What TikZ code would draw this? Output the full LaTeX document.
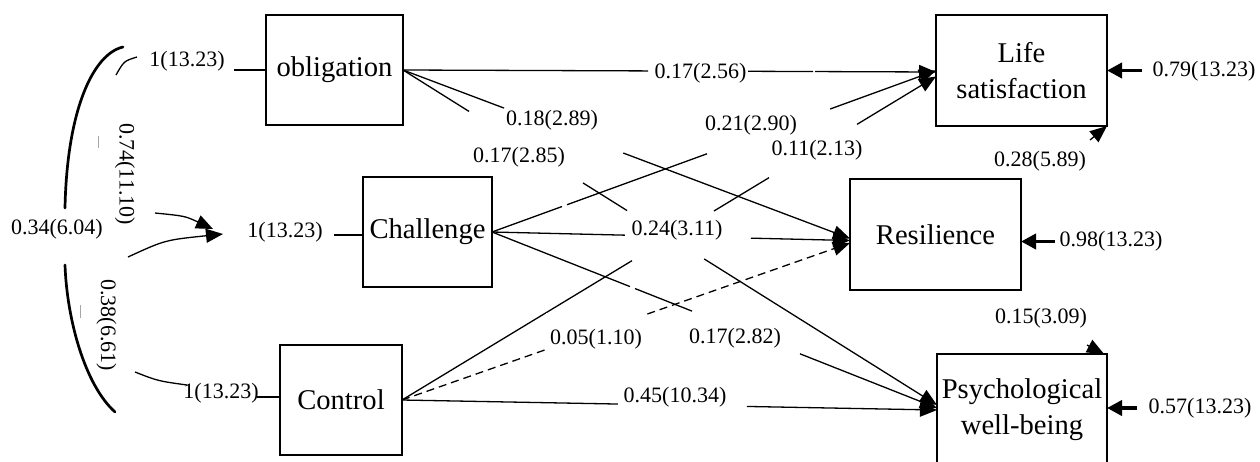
\documentclass[tikz,border=0pt]{standalone}
\usepackage{fontspec}
\setmainfont{Liberation Serif}
\usetikzlibrary{arrows.meta,calc}
\begin{document}
\begin{tikzpicture}[x=1pt,y=-1pt,
  box/.style={draw, line width=1.4pt, inner sep=0pt, outer sep=0pt, align=center,
    font=\fontsize{28.6}{36}\selectfont},
  lab/.style={font=\fontsize{22}{26}\selectfont, inner sep=1pt},
  pathway/.style={line width=1.3pt, -{Triangle[length=17pt,width=14pt]}},
  resid/.style={line width=3.8pt, -{Triangle[length=15pt,width=15pt]}},
  covbig/.style={line width=2.7pt, line cap=round},
  covthin/.style={line width=1.3pt},
  ghost/.style={line width=0.8pt, black!35}]
\useasboundingbox (0,0) rectangle (1260,461);
\clip (0,0) rectangle (1260,461);

% variables
\node[box, minimum width=137pt, minimum height=110pt] (obl)  at (334.5,70)   {obligation};
\node[box, minimum width=129pt, minimum height=110pt] (chal) at (427.5,232)  {Challenge};
\node[box, minimum width=122pt, minimum height=110pt] (ctrl) at (341,400)    {Control};
\node[box, minimum width=171pt, minimum height=111pt] (ls)   at (1021.5,70.5){Life\\satisfaction};
\node[box, minimum width=171pt, minimum height=111pt] (res)  at (935.5,234.5){Resilience};
\node[box, minimum width=170pt, minimum height=112pt] (pwb)  at (1022,410)   {Psychological\\well-being};

% structural paths (gaps leave room for the coefficients)
\draw[pathway, dash pattern=on 245pt off 100pt on 65pt off 2pt on 400pt]
  (obl.east) -- ($(ls.west)+(0,1.5)$);
\draw[pathway, dash pattern=on 108pt off 127.4pt on 400pt]
  (obl.east) -- ($(res.west)+(0,4)$);
\draw[pathway, dash pattern=on 78pt off 134.5pt on 52pt off 91pt on 500pt]
  (obl.east) -- ($(pwb.west)+(0,-5)$);
\draw[pathway, dash pattern=on 74.5pt off 5.3pt on 149pt off 131pt on 400pt]
  (chal.east) -- (ls.west);
\draw[pathway, dash pattern=on 133pt off 126pt on 300pt]
  (chal.east) -- ($(res.west)+(0,6)$);
\draw[pathway, dash pattern=on 148.4pt off 5.4pt on 61.3pt off 116.1pt on 400pt]
  (chal.east) -- ($(pwb.west)+(0,-2)$);
\draw[pathway, dash pattern=on 268.9pt off 95.9pt on 64.3pt off 102.9pt on 400pt]
  (ctrl.east) -- ($(ls.west)+(0,6)$);
\draw[pathway, dash pattern=on 8pt off 5pt]
  (ctrl.east) -- ($(res.west)+(0,8.5)$);
\draw[pathway, dash pattern=on 216pt off 129pt on 400pt]
  (ctrl.east) -- (pwb.west);

% path coefficients
\node[lab] (e1) at (700.5,73) {0.17(2.56)};
\node[lab] (e2) at (552,120)  {0.18(2.89)};
\node[lab] (e3) at (519,157)  {0.17(2.85)};
\node[lab] (e4) at (751,125)  {0.21(2.90)};
\node[lab] (e5) at (817,150)  {0.11(2.13)};
\node[lab] (e6) at (677,230)  {0.24(3.11)};
\node[lab, fill=white, inner xsep=4pt, inner ysep=16pt] (e7) at (596,339) {0.05(1.10)};
\node[lab] (e8) at (735,338)  {0.17(2.82)};
\node[lab] (e9) at (675,397)  {0.45(10.34)};

% residuals
\draw[resid] ($(ls.east)+(35,0)$) -- (ls.east);
\draw[resid] ($(res.east)+(34,7)$) -- ($(res.east)+(0,7)$);
\draw[resid] ($(pwb.east)+(30,-2)$) -- ($(pwb.east)+(0,-2)$);
\node[lab] (u1) at (1204,71)  {0.79(13.23)};
\node[lab] (u2) at (1111,241) {0.98(13.23)};
\node[lab] (u3) at (1200,408) {0.57(13.23)};

% residual covariance
\coordinate (c1a) at (1090,140);
\coordinate (c2a) at (1087,345);
\draw[pathway] (c1a) -- (ls.south east);
\draw[pathway] (c2a) -- ($(pwb.north east)+(-3,0)$);
\node[lab] (c1) at (1040,161) {0.28(5.89)};
\node[lab] (c2) at (1041,318) {0.15(3.09)};

% exogenous variances
\node[lab] (v1) at (187,61)  {1(13.23)};
\node[lab] (v2) at (285,232) {1(13.23)};
\node[lab] (v3) at (221,393) {1(13.23)};
\draw[covthin] (obl.west) -- ++(-32,0);
\draw[covthin] ($(chal.west)+(0,3)$) -- ++(-29,0);
\draw[covthin] ($(ctrl.west)+(0,-3)$) -- ++(-23,0);

% covariances among the predictors
\draw[covbig] (123,47) .. controls (93,54) and (67,110) .. (65,208);
\draw[covbig] (65,265) .. controls (67,320) and (85,385) .. (115,412);
\node[lab] (k1) at (57,229) {0.34(6.04)};

\draw[covthin] (137,57) .. controls (124,61) .. (116,75);
\draw[ghost] (98,136) -- (98,148);
\draw[pathway] (155,213) .. controls (185,216) .. (213,229);
\node[lab, rotate=-90] (k2) at (125,174) {0.74(11.10)};

\draw[pathway] (128,257) .. controls (165,240) .. (223,234);
\draw[ghost] (80,305) -- (80,318);
\draw[covthin] (135,372) .. controls (158,381) .. (187,385);
\node[lab, rotate=-90] (k3) at (106.5,325) {0.38(6.61)};
\end{tikzpicture}
\end{document}
